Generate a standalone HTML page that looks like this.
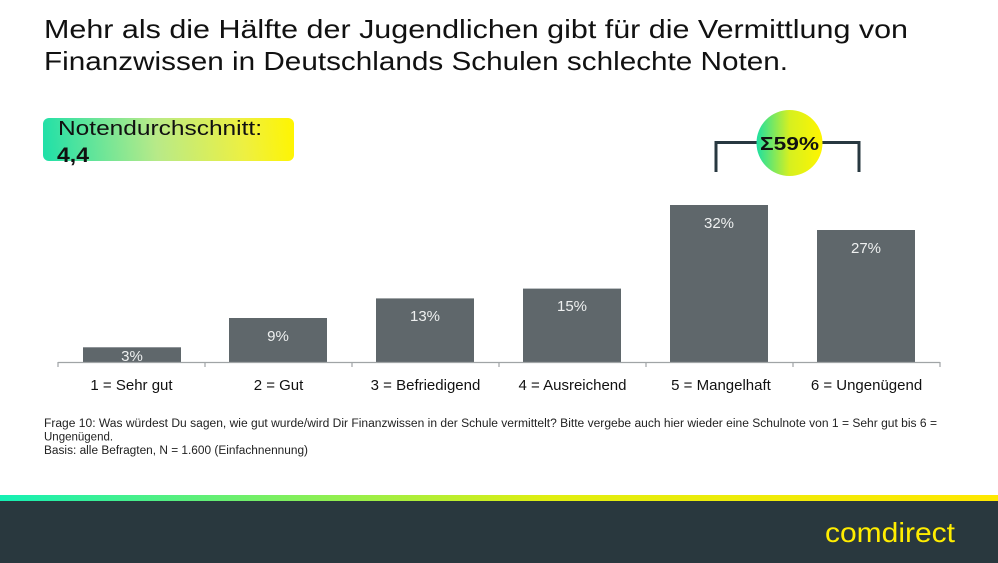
<!DOCTYPE html>
<html><head><meta charset="utf-8"><style>
html,body{margin:0;padding:0;background:#fff;}
svg{display:block;}
text{font-family:"Liberation Sans",sans-serif;}
</style></head><body>
<svg width="998" height="563" viewBox="0 0 998 563" xmlns="http://www.w3.org/2000/svg">
<defs>
<linearGradient id="gBox" gradientUnits="userSpaceOnUse" x1="43" y1="150" x2="294" y2="125">
<stop offset="0" stop-color="#1fe0a8"/><stop offset="0.45" stop-color="#b8ea88"/><stop offset="0.8" stop-color="#eef040"/><stop offset="1" stop-color="#fff500"/>
</linearGradient>
<linearGradient id="gCirc" gradientUnits="userSpaceOnUse" x1="757" y1="143" x2="822" y2="143">
<stop offset="0" stop-color="#1fe0a0"/><stop offset="0.5" stop-color="#d6f020"/><stop offset="1" stop-color="#fff500"/>
</linearGradient>
<linearGradient id="gBar" x1="0" y1="0" x2="1" y2="0">
<stop offset="0" stop-color="#14f0b4"/><stop offset="0.55" stop-color="#e0ee10"/><stop offset="1" stop-color="#ffe800"/>
</linearGradient>
</defs>
<rect width="998" height="563" fill="#fff"/>
<text x="44" y="38" font-size="26" fill="#111" textLength="864" lengthAdjust="spacingAndGlyphs">Mehr als die Hälfte der Jugendlichen gibt für die Vermittlung von</text>
<text x="44" y="70" font-size="26" fill="#111" textLength="744" lengthAdjust="spacingAndGlyphs">Finanzwissen in Deutschlands Schulen schlechte Noten.</text>

<rect x="43" y="118" width="251" height="43" rx="6" fill="url(#gBox)"/>
<text x="58" y="135" font-size="20" fill="#111" textLength="204" lengthAdjust="spacingAndGlyphs">Notendurchschnitt:</text>
<text x="57" y="162" font-size="21" font-weight="bold" fill="#111" textLength="32" lengthAdjust="spacingAndGlyphs">4,4</text>

<path d="M716 172 V142.5 H859 V172" fill="none" stroke="#283840" stroke-width="3"/>
<circle cx="789.5" cy="143" r="33" fill="url(#gCirc)"/>
<text x="789.5" y="150" font-size="18" font-weight="bold" fill="#111" text-anchor="middle" textLength="59" lengthAdjust="spacingAndGlyphs">Σ59%</text>

<g fill="#5f676b">
<rect x="83" y="347.3" width="98" height="14.7"/>
<rect x="229" y="318" width="98" height="44"/>
<rect x="376" y="298.4" width="98" height="63.6"/>
<rect x="523" y="288.6" width="98" height="73.4"/>
<rect x="670" y="205" width="98" height="157"/>
<rect x="817" y="230" width="98" height="132"/>
</g>
<g stroke="#a0a4a6" stroke-width="1.2" fill="none">
<path d="M58 362.5 H940"/>
<path d="M58 362 V367 M205 362 V367 M352 362 V367 M499 362 V367 M646 362 V367 M793 362 V367 M940 362 V367"/>
</g>
<g font-size="15" fill="#eef0f0" text-anchor="middle">
<text x="132" y="361">3%</text>
<text x="278" y="341">9%</text>
<text x="425" y="321">13%</text>
<text x="572" y="311">15%</text>
<text x="719" y="228">32%</text>
<text x="866" y="253">27%</text>
</g>
<g font-size="15" fill="#111" text-anchor="middle">
<text x="131.5" y="390">1 = Sehr gut</text>
<text x="278.5" y="390">2 = Gut</text>
<text x="425.5" y="390">3 = Befriedigend</text>
<text x="572.5" y="390">4 = Ausreichend</text>
<text x="721" y="390">5 = Mangelhaft</text>
<text x="866.5" y="390">6 = Ungenügend</text>
</g>
<g font-size="11.5" fill="#222">
<text x="44" y="427" textLength="893" lengthAdjust="spacingAndGlyphs">Frage 10: Was würdest Du sagen, wie gut wurde/wird Dir Finanzwissen in der Schule vermittelt? Bitte vergebe auch hier wieder eine Schulnote von 1 = Sehr gut bis 6 =</text>
<text x="44" y="440.5">Ungenügend.</text>
<text x="44" y="454" textLength="264" lengthAdjust="spacingAndGlyphs">Basis: alle Befragten, N = 1.600 (Einfachnennung)</text>
</g>

<rect x="0" y="495" width="998" height="6" fill="url(#gBar)"/>
<rect x="0" y="501" width="998" height="62" fill="#29383e"/>
<text x="825" y="542" font-size="28" fill="#ffed00" textLength="130" lengthAdjust="spacingAndGlyphs">comdirect</text>
</svg>
</body></html>
